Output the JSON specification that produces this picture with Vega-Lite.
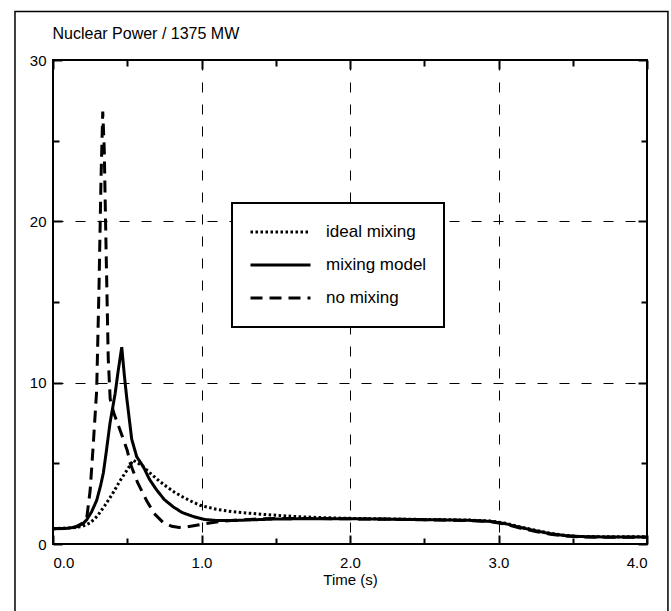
{
  "$schema": "https://vega.github.io/schema/vega-lite/v6.json",
  "width": 594,
  "height": 484,
  "autosize": "none",
  "padding": {"left": 53, "top": 60, "right": 24, "bottom": 67},
  "background": "white",
  "data": {"values": [
    {"series": "no mixing", "time": 0.0, "power": 0.95},
    {"series": "no mixing", "time": 0.1, "power": 0.97},
    {"series": "no mixing", "time": 0.15, "power": 1.05},
    {"series": "no mixing", "time": 0.2, "power": 1.3},
    {"series": "no mixing", "time": 0.227, "power": 1.6},
    {"series": "no mixing", "time": 0.25, "power": 3.3},
    {"series": "no mixing", "time": 0.27, "power": 6.0},
    {"series": "no mixing", "time": 0.294, "power": 9.5},
    {"series": "no mixing", "time": 0.31, "power": 16.0},
    {"series": "no mixing", "time": 0.323, "power": 22.5},
    {"series": "no mixing", "time": 0.335, "power": 26.8},
    {"series": "no mixing", "time": 0.345, "power": 24.5},
    {"series": "no mixing", "time": 0.358, "power": 18.0},
    {"series": "no mixing", "time": 0.372, "power": 11.5},
    {"series": "no mixing", "time": 0.385, "power": 9.0},
    {"series": "no mixing", "time": 0.41, "power": 8.1},
    {"series": "no mixing", "time": 0.45, "power": 7.1},
    {"series": "no mixing", "time": 0.5, "power": 5.8},
    {"series": "no mixing", "time": 0.52, "power": 5.0},
    {"series": "no mixing", "time": 0.57, "power": 3.8},
    {"series": "no mixing", "time": 0.63, "power": 2.7},
    {"series": "no mixing", "time": 0.68, "power": 1.9},
    {"series": "no mixing", "time": 0.74, "power": 1.35},
    {"series": "no mixing", "time": 0.8, "power": 1.1},
    {"series": "no mixing", "time": 0.85, "power": 1.03},
    {"series": "no mixing", "time": 0.9, "power": 1.06},
    {"series": "no mixing", "time": 1.0, "power": 1.22},
    {"series": "no mixing", "time": 1.1, "power": 1.36},
    {"series": "no mixing", "time": 1.2, "power": 1.46},
    {"series": "no mixing", "time": 1.35, "power": 1.54},
    {"series": "no mixing", "time": 1.5, "power": 1.58},
    {"series": "no mixing", "time": 1.8, "power": 1.58},
    {"series": "no mixing", "time": 2.2, "power": 1.54},
    {"series": "no mixing", "time": 2.5, "power": 1.5},
    {"series": "no mixing", "time": 2.8, "power": 1.46},
    {"series": "no mixing", "time": 2.95, "power": 1.38},
    {"series": "no mixing", "time": 3.05, "power": 1.22},
    {"series": "no mixing", "time": 3.15, "power": 0.98},
    {"series": "no mixing", "time": 3.25, "power": 0.78},
    {"series": "no mixing", "time": 3.35, "power": 0.6},
    {"series": "no mixing", "time": 3.45, "power": 0.49},
    {"series": "no mixing", "time": 3.55, "power": 0.44},
    {"series": "no mixing", "time": 3.7, "power": 0.42},
    {"series": "no mixing", "time": 4.0, "power": 0.42},
    {"series": "mixing model", "time": 0.0, "power": 0.95},
    {"series": "mixing model", "time": 0.1, "power": 0.97},
    {"series": "mixing model", "time": 0.16, "power": 1.07},
    {"series": "mixing model", "time": 0.2, "power": 1.25},
    {"series": "mixing model", "time": 0.227, "power": 1.5},
    {"series": "mixing model", "time": 0.26, "power": 2.0},
    {"series": "mixing model", "time": 0.294, "power": 2.7},
    {"series": "mixing model", "time": 0.32, "power": 3.6},
    {"series": "mixing model", "time": 0.339, "power": 4.4},
    {"series": "mixing model", "time": 0.36, "power": 5.8},
    {"series": "mixing model", "time": 0.384, "power": 7.5},
    {"series": "mixing model", "time": 0.418, "power": 9.3},
    {"series": "mixing model", "time": 0.44, "power": 10.8},
    {"series": "mixing model", "time": 0.463, "power": 12.2},
    {"series": "mixing model", "time": 0.48, "power": 10.5},
    {"series": "mixing model", "time": 0.496, "power": 9.1},
    {"series": "mixing model", "time": 0.53, "power": 6.5},
    {"series": "mixing model", "time": 0.564, "power": 5.4},
    {"series": "mixing model", "time": 0.608, "power": 4.8},
    {"series": "mixing model", "time": 0.65, "power": 4.0},
    {"series": "mixing model", "time": 0.698, "power": 3.35},
    {"series": "mixing model", "time": 0.75, "power": 2.75},
    {"series": "mixing model", "time": 0.81, "power": 2.3},
    {"series": "mixing model", "time": 0.87, "power": 1.95},
    {"series": "mixing model", "time": 0.945, "power": 1.7},
    {"series": "mixing model", "time": 1.02, "power": 1.52},
    {"series": "mixing model", "time": 1.1, "power": 1.46},
    {"series": "mixing model", "time": 1.2, "power": 1.45},
    {"series": "mixing model", "time": 1.35, "power": 1.5},
    {"series": "mixing model", "time": 1.5, "power": 1.55},
    {"series": "mixing model", "time": 1.8, "power": 1.57},
    {"series": "mixing model", "time": 2.2, "power": 1.55},
    {"series": "mixing model", "time": 2.5, "power": 1.51},
    {"series": "mixing model", "time": 2.8, "power": 1.47},
    {"series": "mixing model", "time": 2.95, "power": 1.4},
    {"series": "mixing model", "time": 3.05, "power": 1.25},
    {"series": "mixing model", "time": 3.15, "power": 1.02},
    {"series": "mixing model", "time": 3.25, "power": 0.82},
    {"series": "mixing model", "time": 3.35, "power": 0.64},
    {"series": "mixing model", "time": 3.45, "power": 0.52},
    {"series": "mixing model", "time": 3.55, "power": 0.46},
    {"series": "mixing model", "time": 3.7, "power": 0.44},
    {"series": "mixing model", "time": 4.0, "power": 0.44},
    {"series": "ideal mixing", "time": 0.0, "power": 0.95},
    {"series": "ideal mixing", "time": 0.15, "power": 1.02},
    {"series": "ideal mixing", "time": 0.2, "power": 1.1},
    {"series": "ideal mixing", "time": 0.25, "power": 1.3},
    {"series": "ideal mixing", "time": 0.3, "power": 1.75},
    {"series": "ideal mixing", "time": 0.35, "power": 2.4},
    {"series": "ideal mixing", "time": 0.4, "power": 3.1},
    {"series": "ideal mixing", "time": 0.45, "power": 3.9},
    {"series": "ideal mixing", "time": 0.5, "power": 4.6},
    {"series": "ideal mixing", "time": 0.54, "power": 5.2},
    {"series": "ideal mixing", "time": 0.6, "power": 4.85},
    {"series": "ideal mixing", "time": 0.653, "power": 4.4},
    {"series": "ideal mixing", "time": 0.71, "power": 3.95},
    {"series": "ideal mixing", "time": 0.766, "power": 3.55},
    {"series": "ideal mixing", "time": 0.82, "power": 3.2},
    {"series": "ideal mixing", "time": 0.877, "power": 2.9},
    {"series": "ideal mixing", "time": 0.93, "power": 2.65},
    {"series": "ideal mixing", "time": 0.99, "power": 2.4},
    {"series": "ideal mixing", "time": 1.1, "power": 2.15},
    {"series": "ideal mixing", "time": 1.21, "power": 2.0},
    {"series": "ideal mixing", "time": 1.33, "power": 1.9},
    {"series": "ideal mixing", "time": 1.44, "power": 1.82},
    {"series": "ideal mixing", "time": 1.55, "power": 1.75},
    {"series": "ideal mixing", "time": 1.66, "power": 1.69},
    {"series": "ideal mixing", "time": 1.8, "power": 1.64},
    {"series": "ideal mixing", "time": 1.95, "power": 1.6},
    {"series": "ideal mixing", "time": 2.2, "power": 1.56},
    {"series": "ideal mixing", "time": 2.5, "power": 1.52},
    {"series": "ideal mixing", "time": 2.8, "power": 1.48},
    {"series": "ideal mixing", "time": 2.95, "power": 1.42},
    {"series": "ideal mixing", "time": 3.05, "power": 1.28},
    {"series": "ideal mixing", "time": 3.15, "power": 1.05},
    {"series": "ideal mixing", "time": 3.25, "power": 0.85},
    {"series": "ideal mixing", "time": 3.35, "power": 0.66},
    {"series": "ideal mixing", "time": 3.45, "power": 0.53},
    {"series": "ideal mixing", "time": 3.55, "power": 0.47},
    {"series": "ideal mixing", "time": 3.7, "power": 0.45},
    {"series": "ideal mixing", "time": 4.0, "power": 0.45}
  ]},
  "layer": [
    {
      "mark": {"type": "line", "color": "black", "clip": true},
      "encoding": {
        "x": {"field": "time", "type": "quantitative", "scale": {"domain": [0, 4], "nice": false, "zero": false},
          "axis": {"orient": "bottom", "values": [0, 0.5, 1, 1.5, 2, 2.5, 3, 3.5, 4], "domain": false,
            "labelExpr": "datum.value % 1 === 0 ? format(datum.value, '.1f') : ''",
            "tickSize": {"condition": {"test": "datum.value % 1 === 0", "value": -9}, "value": -6},
            "tickColor": "black", "tickWidth": 2,
            "grid": true, "gridColor": "black", "gridDash": [10, 12], "gridWidth": 1,
            "gridOpacity": {"condition": {"test": "datum.value % 1 === 0", "value": 1}, "value": 0},
            "labelPadding": 20, "labelFontSize": 15, "labelColor": "black", "labelFont": "Liberation Sans",
            "title": "Time (s)", "titleFontSize": 15, "titleFontWeight": "normal", "titleColor": "black", "titleFont": "Liberation Sans", "titlePadding": 2}},
        "y": {"field": "power", "type": "quantitative", "scale": {"domain": [0, 30], "nice": false},
          "axis": {"orient": "left", "values": [0, 5, 10, 15, 20, 25, 30], "domain": false,
            "labelExpr": "datum.value % 10 === 0 ? datum.label : ''",
            "tickSize": {"condition": {"test": "datum.value % 10 === 0", "value": -9}, "value": -6},
            "tickColor": "black", "tickWidth": 2,
            "grid": true, "gridColor": "black", "gridDash": [10, 12], "gridWidth": 1,
            "gridOpacity": {"condition": {"test": "datum.value % 10 === 0", "value": 1}, "value": 0},
            "labelPadding": 16, "labelFontSize": 15, "labelColor": "black", "labelFont": "Liberation Sans",
            "title": "Nuclear Power / 1375 MW", "titleAngle": 0, "titleX": -1, "titleY": -27, "titleAlign": "left", "titleBaseline": "middle",
            "titleFontSize": 16, "titleFontWeight": "normal", "titleColor": "black", "titleFont": "Liberation Sans"}},
        "strokeDash": {"field": "series", "type": "nominal",
          "scale": {"domain": ["ideal mixing", "mixing model", "no mixing"], "range": [[2.5, 2.5], [1, 0], [12, 7]]},
          "legend": {"orient": "none", "legendX": 179, "legendY": 143, "title": null, "direction": "vertical"}},
        "strokeWidth": {"field": "series", "type": "nominal",
          "scale": {"domain": ["ideal mixing", "mixing model", "no mixing"], "range": [3, 3, 2]},
          "legend": {"orient": "none", "legendX": 179, "legendY": 143, "title": null, "direction": "vertical"}}
      }
    },
    {
      "data": {"values": [{}]},
      "mark": {"type": "rect", "filled": false, "stroke": "black", "strokeWidth": 1.5, "clip": false},
      "encoding": {
        "x": {"datum": -0.256, "type": "quantitative",
          "axis": {"orient": "top", "values": [0, 0.5, 1, 1.5, 2, 2.5, 3, 3.5, 4], "domain": false, "labels": false, "grid": false, "title": null,
            "tickSize": {"condition": {"test": "datum.value % 1 === 0", "value": -9}, "value": -6}, "tickColor": "black", "tickWidth": 2}},
        "x2": {"datum": 4.141},
        "y": {"datum": 33, "type": "quantitative",
          "axis": {"orient": "right", "values": [0, 5, 10, 15, 20, 25, 30], "domain": false, "labels": false, "grid": false, "title": null,
            "tickSize": {"condition": {"test": "datum.value % 10 === 0", "value": -9}, "value": -6}, "tickColor": "black", "tickWidth": 2}},
        "y2": {"datum": -5}
      }
    }
  ],
  "resolve": {"axis": {"x": "independent", "y": "independent"}},
  "config": {
    "view": {"stroke": "black", "strokeWidth": 2},
    "legend": {"strokeColor": "black", "strokeWidth": 2, "fillColor": "white", "padding": 17,
      "symbolType": "stroke", "symbolSize": 3600, "symbolStrokeColor": "black", "clipHeight": 24,
      "labelFontSize": 17, "labelFont": "Liberation Sans", "labelColor": "black", "labelOffset": 14, "rowPadding": 9}
  }
}
